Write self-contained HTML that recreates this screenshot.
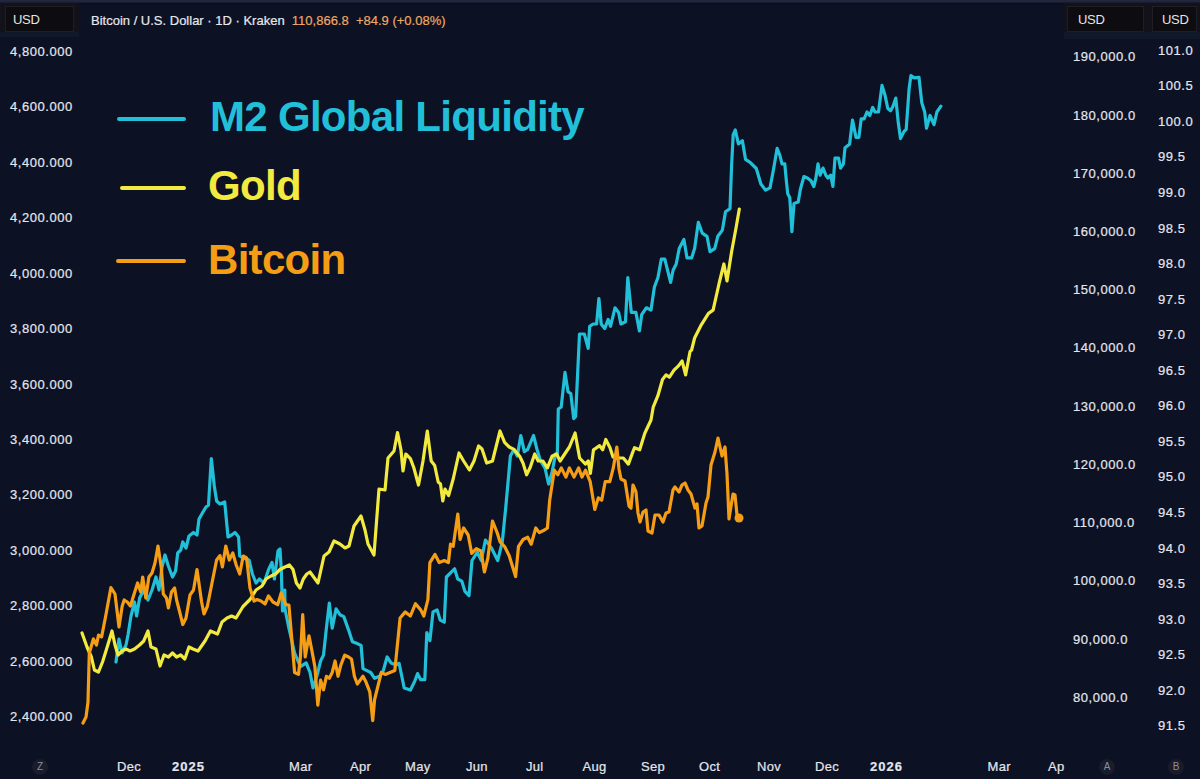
<!DOCTYPE html>
<html><head><meta charset="utf-8">
<style>
html,body{margin:0;padding:0;}
body{width:1200px;height:779px;overflow:hidden;background:#0c1124;position:relative;font-family:"Liberation Sans",sans-serif;color:#dfe1e8;}
.topbar{position:absolute;left:0;top:0;width:1200px;height:3px;background:linear-gradient(#242840,#20243a 60%,#151829);}
.topbar2{position:absolute;left:0;top:3px;width:1200px;height:2px;background:#0a0e20;}
.usdw{position:absolute;top:3px;height:29px;background:#131119;}
.usd{position:absolute;top:6px;height:26px;background:#0d0c10;border:1px solid #1f1e26;box-sizing:border-box;font-size:13px;color:#e6e5e0;line-height:25px;letter-spacing:-0.3px;}
.under{position:absolute;top:32px;height:5px;background:#111829;}
.title{position:absolute;left:91px;top:13px;font-size:13px;white-space:nowrap;color:#e6e8ee;-webkit-text-stroke:0.2px currentColor;}
.title .o{color:#eea862;}
.lab{position:absolute;font-size:13px;white-space:nowrap;color:#e4e6ed;line-height:14px;letter-spacing:0.55px;-webkit-text-stroke:0.2px #e4e6ed;}
.la{left:10px;}
.ra{left:1073px;}
.rb{left:1158px;}
.xl{position:absolute;top:760px;font-size:13px;white-space:nowrap;color:#e4e6ed;line-height:14px;letter-spacing:0.3px;-webkit-text-stroke:0.2px currentColor;}
.xl.b{font-weight:bold;letter-spacing:1px;}
.circ{position:absolute;top:759px;width:16px;height:16px;border-radius:8px;background:#181c2b;color:#8a8f9c;font-size:10px;text-align:center;line-height:16px;}
.leg{position:absolute;font-weight:bold;font-size:42px;white-space:nowrap;line-height:46px;letter-spacing:-0.7px;}
.seg{position:absolute;height:4px;border-radius:2px;}
svg{position:absolute;left:0;top:0;}
</style></head>
<body>
<div class="topbar"></div><div class="topbar2"></div>
<div class="usdw" style="left:0;width:79px;"></div><div class="under" style="left:0;width:79px;"></div><div class="usd" style="left:5px;width:69px;padding-left:7px;">USD</div>
<div class="usdw" style="left:1064px;width:136px;"></div><div class="under" style="left:1064px;width:136px;height:7px;"></div><div class="usd" style="left:1067px;width:77px;padding-left:10px;">USD</div>
<div class="usd" style="left:1152px;width:45px;padding-left:9px;">USD</div>
<div class="title">Bitcoin / U.S. Dollar · 1D · Kraken <span class="o">&nbsp;110,866.8 &nbsp;+84.9 (+0.08%)</span></div>




<div class="lab la" style="top:45.0px">4,800.000</div>
<div class="lab la" style="top:100.4px">4,600.000</div>
<div class="lab la" style="top:155.8px">4,400.000</div>
<div class="lab la" style="top:211.3px">4,200.000</div>
<div class="lab la" style="top:266.7px">4,000.000</div>
<div class="lab la" style="top:322.1px">3,800.000</div>
<div class="lab la" style="top:377.5px">3,600.000</div>
<div class="lab la" style="top:432.9px">3,400.000</div>
<div class="lab la" style="top:488.4px">3,200.000</div>
<div class="lab la" style="top:543.8px">3,000.000</div>
<div class="lab la" style="top:599.2px">2,800.000</div>
<div class="lab la" style="top:654.6px">2,600.000</div>
<div class="lab la" style="top:710.0px">2,400.000</div>
<div class="lab ra" style="top:50.3px">190,000.0</div>
<div class="lab ra" style="top:108.5px">180,000.0</div>
<div class="lab ra" style="top:166.8px">170,000.0</div>
<div class="lab ra" style="top:225.0px">160,000.0</div>
<div class="lab ra" style="top:283.2px">150,000.0</div>
<div class="lab ra" style="top:341.4px">140,000.0</div>
<div class="lab ra" style="top:399.7px">130,000.0</div>
<div class="lab ra" style="top:457.9px">120,000.0</div>
<div class="lab ra" style="top:516.1px">110,000.0</div>
<div class="lab ra" style="top:574.4px">100,000.0</div>
<div class="lab ra" style="top:632.6px">90,000.0</div>
<div class="lab ra" style="top:690.8px">80,000.0</div>
<div class="lab rb" style="top:43.8px">101.0</div>
<div class="lab rb" style="top:79.3px">100.5</div>
<div class="lab rb" style="top:114.9px">100.0</div>
<div class="lab rb" style="top:150.4px">99.5</div>
<div class="lab rb" style="top:186.0px">99.0</div>
<div class="lab rb" style="top:221.6px">98.5</div>
<div class="lab rb" style="top:257.1px">98.0</div>
<div class="lab rb" style="top:292.6px">97.5</div>
<div class="lab rb" style="top:328.2px">97.0</div>
<div class="lab rb" style="top:363.8px">96.5</div>
<div class="lab rb" style="top:399.3px">96.0</div>
<div class="lab rb" style="top:434.8px">95.5</div>
<div class="lab rb" style="top:470.4px">95.0</div>
<div class="lab rb" style="top:505.9px">94.5</div>
<div class="lab rb" style="top:541.5px">94.0</div>
<div class="lab rb" style="top:577.0px">93.5</div>
<div class="lab rb" style="top:612.6px">93.0</div>
<div class="lab rb" style="top:648.1px">92.5</div>
<div class="lab rb" style="top:683.7px">92.0</div>
<div class="lab rb" style="top:719.2px">91.5</div>
<div class="circ" style="left:32px">Z</div>
<div class="xl" style="left:117px">Dec</div>
<div class="xl b" style="left:172px">2025</div>
<div class="xl" style="left:289px">Mar</div>
<div class="xl" style="left:350px">Apr</div>
<div class="xl" style="left:405px">May</div>
<div class="xl" style="left:466px">Jun</div>
<div class="xl" style="left:526px">Jul</div>
<div class="xl" style="left:582.5px">Aug</div>
<div class="xl" style="left:641px">Sep</div>
<div class="xl" style="left:699px">Oct</div>
<div class="xl" style="left:757px">Nov</div>
<div class="xl" style="left:815px">Dec</div>
<div class="xl b" style="left:870px">2026</div>
<div class="xl" style="left:987.5px">Mar</div>
<div class="xl" style="left:1048px">Ap</div>
<div class="circ" style="left:1099px">A</div>
<div class="circ" style="left:1168px">B</div>

<svg width="1200" height="779" viewBox="0 0 1200 779">
<g fill="none" stroke-width="3.2" stroke-linejoin="round" stroke-linecap="round">
<polyline id="cyan" stroke="#22bfd8" points="116,662 119,639 122,653 126,645 128,635 131,616 134.5,602 136.6,616 139.6,598 143.7,590 148,600 152,590 156,577 159,590 162,567 165,555 168,565 172.5,577 175.6,571 177.7,553 180.7,550 182.8,542 186,548 189,536 193.5,532.5 197,535 199,519 203,512 206,507 208.5,505 211.3,458.5 214.3,486 216.6,501 220,504 224.7,502 228,537 231.6,535 235,532.5 238.6,537 239.7,556 243,558 249,560 252.4,574 256,583 259.4,579 264,583 268.6,569.5 272,562.5 274.4,579 278,551 280,549 281.3,570 282.5,611 284.8,590 285,609 288.9,628.2 294.6,653.2 300.4,666.7 306.2,662.9 310,672.5 313,687.9 316.8,676.3 320.6,661 323.5,655.1 326.4,628.2 329.3,603.1 332.2,628.2 336.1,608.9 339.9,614.7 343.8,616.6 348.6,630.1 352.4,641.7 357.3,643.6 361.1,645.5 363,668.6 366.9,670.6 370.7,672.5 374.6,678.3 379.4,676.3 383.3,670.6 387.1,657 391,662.9 395.8,664.8 399.1,663.3 404.2,688 410.4,690 414.5,681.8 417.6,673.6 420.7,679.7 424.8,679.7 426.8,632.5 429.9,640.7 433,611.9 437.1,609.9 440.2,620.1 444.3,622.2 446.4,577 450.5,572.9 454.6,568.8 457.7,579 461.8,581.1 464.9,591.4 469,595.5 472,560.5 477.2,552.3 481.3,560.5 485.4,540 491.6,548.2 497.7,560.5 502.3,541.8 505.8,507 510.4,456 513.9,449.4 517.3,456 520.8,435.5 524.3,451.7 527.7,449.4 533.5,435.5 537,449.4 540.5,461 545,468 548.6,484 552,472.5 555.5,454 557.3,455 558.3,409 561.2,407 565,372.4 568,391.7 570.8,393.6 573.7,418.6 575.6,416.7 579.5,334 584.3,334 588.2,348.3 589.7,326.3 593.1,324 596.6,324 598.9,298.6 601.2,324 604.7,328.6 608.2,319.4 610.5,326.3 615,307.8 618.6,312.4 620.9,324 625.5,321.7 627.8,277.7 631.3,312.4 635.9,312.4 639.4,331 641.7,314.7 646.3,307.8 651,310.1 654.4,287 657.9,277.7 661.3,259.2 664.8,259.2 668.3,273.1 670.6,282.4 673.1,270.2 676.2,264 679.2,248.6 683.9,239.4 687,257.9 691.6,257.9 694.6,248.6 698.3,222.4 702.3,233.2 707,236.3 710,251.7 714.7,248.6 717.8,236.3 722.4,230.1 725.5,211.7 730,208.6 731.6,165.5 733.2,134.6 735.3,130 738.4,143.9 742.4,140.8 745.5,159.3 750.1,162.4 756.3,168.5 760.9,184 765.5,190.1 770,187.9 773.5,169.5 777.1,148.4 779.9,155.4 782,163.9 784.8,163.9 786.2,179.4 787.7,193.6 789.8,197.8 791.9,231.7 794,203.4 798.2,202 800.4,189.3 803.9,176.6 807.4,178 811,180.8 813.8,186.5 815.9,178 818,163.9 820.1,175.2 823,168.1 825.8,175.2 827.9,178 830.7,175.2 832.9,186.5 835,158.2 838.5,158.2 840.6,168.1 843.4,163.9 845,147.8 849.6,144.3 852.5,120.1 856,137.4 858.9,137.4 861.2,118.9 864.1,118.9 867,112 869.8,115.5 872.7,107.4 875,112 878.5,112 882,85.4 884.9,94.7 887.8,108.5 890.6,110.8 893,106.2 895.8,98.1 898.1,121.2 900.5,138.6 903.9,131.6 906.2,129.3 909.1,88.9 910.9,75.6 914.3,77.9 919,77.3 921.8,102.8 924.7,112 926.5,128.2 930,115.5 934,124.7 936.9,112 940.9,106.2"/>
<polyline id="gold" stroke="#f2ea3e" points="82,633 87,647 91.4,657 94.4,670 98.5,672 102.7,661.5 107.8,645 112,631 115,645 118,655 122,651 126,649 130,651 134.5,649 139.6,645 143.7,641 148,631 151,647 156,649 160,666 164,655 168.4,657 172.5,653 176.6,657 180.7,655 184.8,659 189,647 193,649 198,651 205,641 210.4,631 217.5,634 222,622 227,618 231.6,616 236,618 243,606.5 250,599.5 256,590 262,586 266,579 271,576 275.5,574 280,569.5 285,567 289.4,565 293,569.5 296.4,583 300,588 303.3,579 306.8,574 310,572 318,583 324,556 329,552 334,541 340,544 345,548 349,546 354,526 361,516 365,530 368,544 374,555 379,489 385,490 388,458 394,451 397.5,432.5 401,450 403,471 405.8,454 410.4,458.6 413.9,468 418.5,485 423,461 427.3,431 431.2,461 434.7,465.5 438.2,482 440.5,484 442.8,501 445,489 448.6,495.5 453.2,479 459,453 463.6,461 469.4,470 474,461 478.6,446 482,449 486.7,463 492.5,461 496,447 500,431 504.6,442.4 509.2,447 513.9,449.4 519.7,456.3 523.1,463.2 526.6,474.8 530,467.9 534.7,454 538.2,461 542.8,461 547.4,467.9 552,456.3 556.6,454 560.1,461 564.7,454 569.4,447 575.1,433 579.6,458 585.3,464 588.3,461 590.4,473.4 593.5,449.8 599.6,445.7 602.7,449.8 605.8,439.5 610,447.7 613,457 618.1,458 623.3,458 628.4,464.1 632.5,452.9 634.5,447.7 639.7,449.8 644.8,433.3 651,420 653.2,407.2 657.9,395.7 662.5,379.5 666,374.9 669.4,377.2 674,370.2 678.7,365.6 682.1,361 685.6,374.9 690,351.7 691.6,350 694.6,338 700.8,325.7 708.5,313.3 713.1,310.2 719.3,282.5 723.9,264 727,281 731.6,251.7 736.2,227 739.3,209"/>
<polyline id="orange" stroke="#f59d14" points="83,723 86,717 88,702 89.3,653 93.4,639 96.5,645 98.5,635 101.6,637 105.7,616 110.9,587.5 115,594 119,627 122.2,606 124.2,600 127.3,602 130.4,606 133.5,596 137.6,583 140.7,592 142.7,577 145.8,598 148.9,577 152,573 155,563 158,546 161.2,567 163.3,594 166.4,598 168.4,608 171.5,592 174.6,588 176.6,600 179.7,612 182.8,624.5 186,618 190,595 193.5,590 197,569.5 201.6,602 204,614 207.3,606.5 212,583 216.6,560 220,555.6 222.4,567 225.8,546 229.3,560 232.8,553 236.2,565 239.7,574 243.2,556 246.6,558 250,588 254,601 257,599.5 261,601 265,604 268.5,596 273,602 277.7,604.7 281.2,593 285.8,604.7 288.9,605 291.7,637.8 294.6,672.5 298.5,674.4 300.4,657 302.7,614.7 305.2,657 307.2,645.5 309,635.9 312,651.3 314.9,666.7 317.8,705.2 320.6,680.2 323.5,689.8 326.4,676.3 329.3,678.3 332.2,672.5 335.1,661 338,676.3 340.9,664.8 344.7,655.1 348.6,657 351.5,659 354.4,676.3 357.3,684 360.1,680.2 363,676.3 366,682.1 369.8,691.8 372.7,720.7 374.6,699.5 377.5,687.9 381.3,672.5 385.2,674.4 390,672.5 394.8,670.6 400.1,618 405.3,611.9 410.4,616 415.5,603.7 420.7,609.9 423.8,616 427.9,599.6 429.9,562.6 435,554.4 439.2,562.6 444.3,560.5 448.4,562.6 450.5,544.1 453.2,546.4 457.8,514 460.1,539.5 463.6,528 468.2,535 471.7,553.4 476.3,548.7 481,551 484.4,572 487.9,558 492.5,521 497.1,532.5 500,541.8 504.6,546.5 509.2,555.7 515.6,576.5 518.5,546.5 523.1,539.5 527.7,537.2 531.2,544.2 535.8,528 539.3,532.6 543.9,530.3 547.4,528 549.7,500.2 554.3,470.2 557.8,474.8 561.3,467.9 565.9,477.1 569.4,467.9 574,477.1 578.6,467.9 582,477.1 585.5,470.2 590.2,481.7 594.8,509.5 598.3,497.9 601.7,500.2 605.2,481.7 609.8,481.7 613.3,467.9 616.8,447 619,469 621,479 625,481 629,506 631,508 633,485 636,492 638,513 640,522 643,512 646,510 648,531 652,533 655,515 659,515 663,522 666,513 669,512 673,490 675,487 679,492 682,485 685,483 688,490 691,494 695,508 697,504 699,528 702,526 706,503 708,497 711,465 715,452 718,438 722,456 725,447 727,474 729,519 733,494 735,495 737,515 739,518"/>
</g>
<circle cx="739" cy="518" r="4.5" fill="#f59d14"/>
</svg>

<div class="seg" style="left:117px;top:117px;width:69px;background:#22bfd8"></div>
<div class="seg" style="left:120px;top:186px;width:66px;background:#f2ea3e"></div>
<div class="seg" style="left:116px;top:259px;width:69.5px;background:#f59d14"></div>
<div class="leg" style="left:210px;top:94px;color:#22bfd8">M2 Global Liquidity</div>
<div class="leg" style="left:208px;top:163px;color:#f2ea3e">Gold</div>
<div class="leg" style="left:208px;top:237px;color:#f59d14">Bitcoin</div>
</body></html>
